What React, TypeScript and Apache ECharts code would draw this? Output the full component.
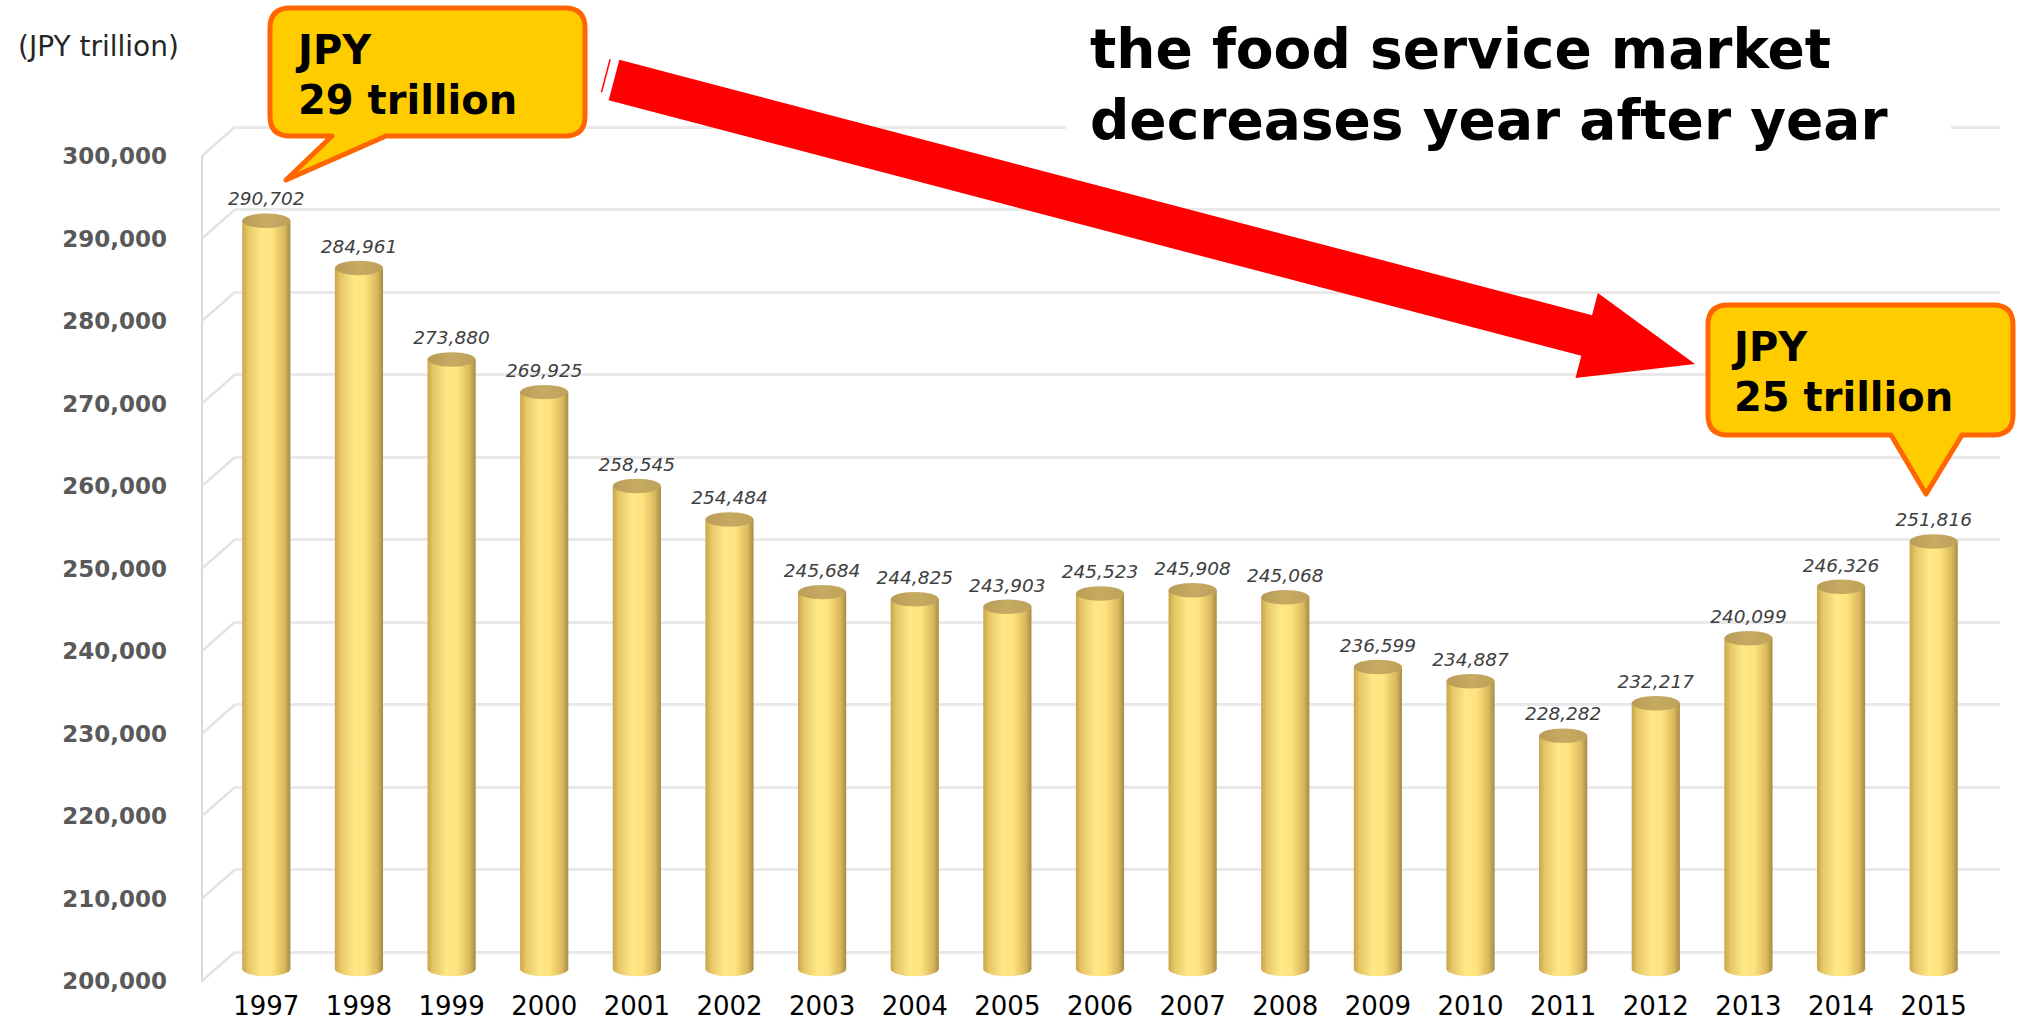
import React, { useEffect, useRef } from "react";
import * as echarts from "echarts";

const years = ["1997", "1998", "1999", "2000", "2001", "2002", "2003", "2004", "2005", "2006", "2007", "2008", "2009", "2010", "2011", "2012", "2013", "2014", "2015"];
const values = [290702, 284961, 273880, 269925, 258545, 254484, 245684, 244825, 243903, 245523, 245908, 245068, 236599, 234887, 228282, 232217, 240099, 246326, 251816];
const yMin = 200000;
const yMax = 300000;
const yStep = 10000;
const yTicks = [200000, 210000, 220000, 230000, 240000, 250000, 260000, 270000, 280000, 290000, 300000];
const unitLabel = "(JPY trillion)";
const titleLines = ["the food service market", "decreases year after year"];
const calloutStart = ["JPY", "29 trillion"];
const calloutEnd = ["JPY", "25 trillion"];

const FONT = "DejaVu Sans";
const fmt = (v: number) => v.toLocaleString("en-US");

function bubblePath(w: number, h: number, r: number, b1: number, b2: number, tx: number, ty: number) {
  return `M ${r} 0 L ${w - r} 0 Q ${w} 0 ${w} ${r} L ${w} ${h - r} Q ${w} ${h} ${w - r} ${h} L ${b2} ${h} L ${tx} ${ty} L ${b1} ${h} L ${r} ${h} Q 0 ${h} 0 ${h - r} L 0 ${r} Q 0 0 ${r} 0 Z`;
}

let registered = false;
function registerShapes() {
  if (registered) return;
  registered = true;
  echarts.graphic.registerShape("bubbleL", echarts.graphic.extendPath(bubblePath(315, 128, 20, 62, 116, 16, 172), {}) as any);
  echarts.graphic.registerShape("bubbleR", echarts.graphic.extendPath(bubblePath(305, 130, 20, 183, 254, 218, 189), {}) as any);
}

export default function App() {
  const ref = useRef<HTMLDivElement>(null);
  useEffect(() => {
    if (!ref.current) return;
    registerShapes();
    const chart = echarts.init(ref.current, undefined, { renderer: "svg" });

    const T = [614, 80];
    const P = [1695, 364];
    const dx = P[0] - T[0], dy = P[1] - T[1];
    const L = Math.hypot(dx, dy);
    const ux = dx / L, uy = dy / L;
    const nx = -uy, ny = ux;
    const hw = 21, hh = 44, hl = 112;
    const B = [P[0] - ux * hl, P[1] - uy * hl];
    const arrowPts = [
      [T[0] + nx * hw, T[1] + ny * hw],
      [B[0] + nx * hw, B[1] + ny * hw],
      [B[0] + nx * hh, B[1] + ny * hh],
      [P[0], P[1]],
      [B[0] - nx * hh, B[1] - ny * hh],
      [B[0] - nx * hw, B[1] - ny * hw],
      [T[0] - nx * hw, T[1] - ny * hw],
    ];
    const off = 9;
    const thin = [
      [T[0] - ux * off + nx * (hw - 6), T[1] - uy * off + ny * (hw - 6)],
      [T[0] - ux * off - nx * (hw - 2), T[1] - uy * off - ny * (hw - 2)],
    ];

    const barData = values.map((v, i) => [i, v]);

    const option: any = {
      animation: false,
      backgroundColor: "#ffffff",
      textStyle: { fontFamily: FONT },
      grid: [
        { left: 235, right: 17, top: 127, height: 825 },
        { left: 220, right: 37, top: 144, height: 825 },
        { left: 202, width: 40, top: 156, height: 825 },
      ],
      xAxis: [
        { gridIndex: 0, type: "category", data: years, show: false },
        {
          gridIndex: 1, type: "category", data: years,
          axisLine: { show: false }, axisTick: { show: false },
          axisLabel: { color: "#000000", fontSize: 26, fontFamily: FONT, margin: 24 },
        },
        { gridIndex: 2, type: "value", min: 0, max: 1, show: false },
      ],
      yAxis: [
        {
          gridIndex: 0, type: "value", min: yMin, max: yMax, interval: yStep,
          axisLine: { show: false }, axisTick: { show: false }, axisLabel: { show: false },
          splitLine: { show: true, lineStyle: { color: "#e9e9e9", width: 3 } },
        },
        {
          gridIndex: 1, type: "value", min: yMin, max: yMax, interval: yStep,
          axisLine: { show: false }, axisTick: { show: false }, axisLabel: { show: false },
          splitLine: { show: false },
        },
        {
          gridIndex: 2, type: "value", min: yMin, max: yMax, interval: yStep,
          axisLine: { show: true, lineStyle: { color: "#d9d9d9", width: 2 } },
          axisTick: { show: false },
          splitLine: { show: false },
          axisLabel: {
            color: "#595959", fontSize: 23, fontWeight: "bold", fontFamily: FONT, margin: 35,
            formatter: (v: number) => fmt(v),
          },
        },
      ],
      series: [
        {
          type: "custom",
          name: "walls",
          xAxisIndex: 2, yAxisIndex: 2,
          silent: true,
          data: yTicks.map((t) => [0, t]),
          renderItem: (params: any, api: any) => {
            const p = api.coord([0, api.value(1)]);
            return {
              type: "line",
              shape: { x1: p[0], y1: p[1], x2: p[0] + 33, y2: p[1] - 29 },
              style: { stroke: "#e3e3e3", lineWidth: 2.5 },
            };
          },
          z: 1,
        },
        {
          type: "custom",
          name: "market",
          xAxisIndex: 1, yAxisIndex: 1,
          data: barData,
          renderItem: (params: any, api: any) => {
            const v = api.value(1);
            const top = api.coord([api.value(0), v]);
            const bot = api.coord([api.value(0), yMin]);
            const w = api.size([1, 0])[0] * 0.52;
            const x = top[0] - w / 2;
            const ry = w * 0.15;
            const body = new echarts.graphic.LinearGradient(0, 0, 1, 0, [
              { offset: 0, color: "#c8a54a" },
              { offset: 0.12, color: "#e6c665" },
              { offset: 0.4, color: "#ffe887" },
              { offset: 0.62, color: "#ffe37e" },
              { offset: 0.88, color: "#d9b85c" },
              { offset: 1, color: "#a48a45" },
            ]);
            const cap = new echarts.graphic.LinearGradient(0, 0, 1, 0, [
              { offset: 0, color: "#b99c55" },
              { offset: 0.5, color: "#c7ab63" },
              { offset: 1, color: "#bfa15a" },
            ]);
            return {
              type: "group",
              children: [
                { type: "ellipse", shape: { cx: top[0], cy: bot[1], rx: w / 2, ry }, style: { fill: body } },
                { type: "rect", shape: { x, y: top[1], width: w, height: bot[1] - top[1] }, style: { fill: body } },
                { type: "ellipse", shape: { cx: top[0], cy: top[1], rx: w / 2, ry }, style: { fill: cap } },
                {
                  type: "text",
                  style: {
                    text: fmt(v), x: top[0], y: top[1] - ry - 5,
                    align: "center", verticalAlign: "bottom",
                    fontFamily: FONT, fontStyle: "italic", fontSize: 18.5, fill: "#404040",
                  },
                },
              ],
            };
          },
          z: 3,
        },
      ],
      graphic: [
        {
          type: "text", z: 100, left: 18, top: 32,
          style: { text: unitLabel, fontFamily: FONT, fontSize: 28, fill: "#262626" },
        },
        {
          type: "rect", z: 90, shape: { x: 1066, y: 6, width: 885, height: 144 },
          style: { fill: "#ffffff" },
        },
        {
          type: "text", z: 100, x: 1090, y: 49,
          style: { text: titleLines[0], fontFamily: FONT, fontWeight: "bold", fontSize: 55, fill: "#000000", verticalAlign: "middle" },
        },
        {
          type: "text", z: 100, x: 1090, y: 120,
          style: { text: titleLines[1], fontFamily: FONT, fontWeight: "bold", fontSize: 55, fill: "#000000", verticalAlign: "middle" },
        },
        {
          type: "line", z: 100, shape: { x1: thin[0][0], y1: thin[0][1], x2: thin[1][0], y2: thin[1][1] },
          style: { stroke: "#ff0000", lineWidth: 1.5 },
        },
        {
          type: "polygon", z: 100, shape: { points: arrowPts },
          style: { fill: "#ff0000" },
        },
        {
          type: "bubbleL", z: 100, x: 270, y: 8,
          style: { fill: "#ffcc00", stroke: "#ff6600", lineWidth: 5, lineJoin: "round" },
        },
        {
          type: "text", z: 101, x: 298, y: 50,
          style: { text: calloutStart[0], fontFamily: FONT, fontWeight: "bold", fontSize: 40, fill: "#000000", verticalAlign: "middle" },
        },
        {
          type: "text", z: 101, x: 298, y: 100,
          style: { text: calloutStart[1], fontFamily: FONT, fontWeight: "bold", fontSize: 40, fill: "#000000", verticalAlign: "middle" },
        },
        {
          type: "bubbleR", z: 100, x: 1708, y: 305,
          style: { fill: "#ffcc00", stroke: "#ff6600", lineWidth: 5, lineJoin: "round" },
        },
        {
          type: "text", z: 101, x: 1734, y: 347,
          style: { text: calloutEnd[0], fontFamily: FONT, fontWeight: "bold", fontSize: 40, fill: "#000000", verticalAlign: "middle" },
        },
        {
          type: "text", z: 101, x: 1734, y: 397,
          style: { text: calloutEnd[1], fontFamily: FONT, fontWeight: "bold", fontSize: 40, fill: "#000000", verticalAlign: "middle" },
        },
      ],
    };
    chart.setOption(option);
    return () => chart.dispose();
  }, []);
  return <div ref={ref} style={{ position: "absolute", left: 0, top: 0, width: 2017, height: 1023 }} />;
}
